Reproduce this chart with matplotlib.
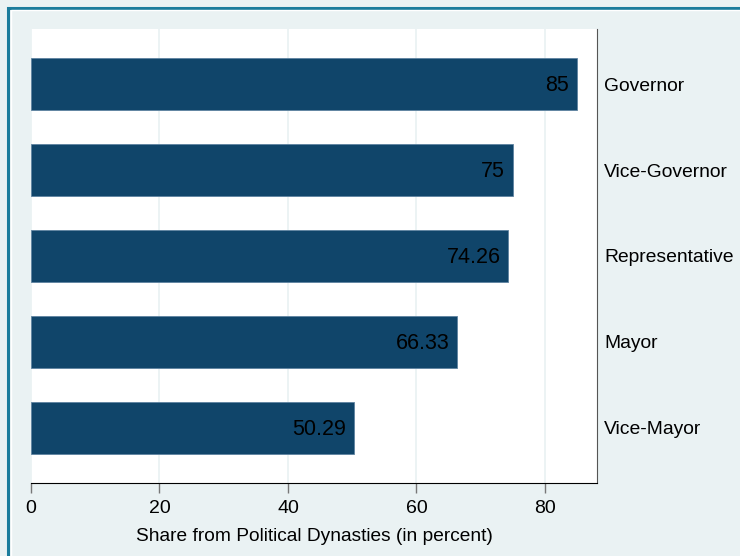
import matplotlib
matplotlib.use("Agg")
from matplotlib import pyplot as plt
from matplotlib.patches import Rectangle

plt.rcParams['font.family'] = ['Liberation Sans', 'DejaVu Sans']

offices = ['Governor', 'Vice-Governor', 'Representative', 'Mayor', 'Vice-Mayor']
shares = [85, 75, 74.26, 66.33, 50.29]
bar_labels = ['85', '75', '74.26', '66.33', '50.29']
xticks = [0, 20, 40, 60, 80]

bg = '#EAF2F3'
fig = plt.figure(figsize=(7.4, 5.56), dpi=100, facecolor=bg)
# teal frame around the graph region, with a thin white inner line
fig.patches.append(Rectangle((8 / 740, -0.1), 1.1, 1 - 7.5 / 556 + 0.1,
                             transform=fig.transFigure, fill=False,
                             edgecolor='#1B7C9C', linewidth=2.2, zorder=0))
fig.patches.append(Rectangle((10.5 / 740, -0.1), 1.1, 1 - 10 / 556 + 0.1,
                             transform=fig.transFigure, fill=False,
                             edgecolor='white', linewidth=1.0, zorder=0))

ax = fig.add_axes([31 / 740, 1 - 483 / 556, (597 - 31) / 740, (483 - 29) / 556])
ax.set_facecolor('white')

pos = list(range(len(offices)))
ax.barh(pos, shares, height=0.605, color='#10456A', edgecolor='#5E83A0',
        linewidth=0.6, zorder=3)
for p, v, lab in zip(pos, shares, bar_labels):
    ax.text(v - 1.2, p + 0.02, lab, ha='right', va='center', fontsize=15.5,
            color='black', zorder=4)

ax.set_ylim(4 + 0.64, -0.64)
ax.set_xlim(0, 88.1)
ax.set_xticks(xticks)
ax.set_xticklabels([str(t) for t in xticks], fontsize=14)
ax.grid(axis='x', color=bg, linewidth=1.3, zorder=0)
ax.tick_params(axis='x', direction='out', length=7, width=1, color='#777777',
               pad=5)

ax.yaxis.tick_right()
ax.set_yticks(pos)
ax.set_yticklabels(offices, fontsize=13.9)
ax.tick_params(axis='y', length=0, pad=5)

ax.spines['left'].set_visible(False)
ax.spines['top'].set_visible(False)
ax.spines['right'].set_color('#555555')
ax.spines['bottom'].set_color('black')
ax.set_xlabel('Share from Political Dynasties (in percent)', fontsize=13.8,
              labelpad=8)

fig.savefig('out.png', dpi=100, facecolor=bg)
